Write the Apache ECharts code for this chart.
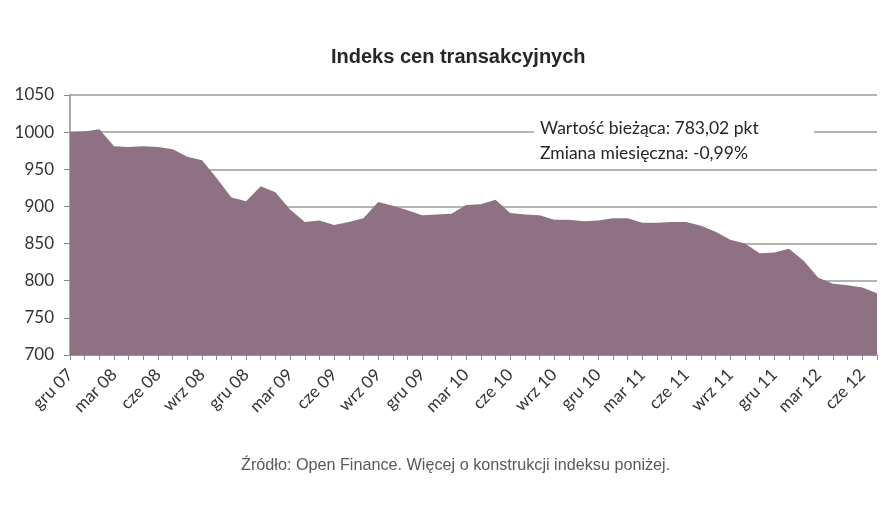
<!DOCTYPE html>
<html lang="pl">
<head>
    <meta charset="UTF-8">
    <title>Indeks cen transakcyjnych</title>
    <style>
        html, body { margin: 0; padding: 0; background: #fff; }
        #chart { width: 884px; height: 519px; }
    </style>
    <script src="https://cdn.jsdelivr.net/npm/echarts@6/dist/echarts.min.js"></script>
</head>
<body>
    <div id="chart"></div>
    <script>
        // miesiące od gru 07 do lip 12
        var months = [
            'gru 07',
            'sty 08', 'lut 08', 'mar 08', 'kwi 08', 'maj 08', 'cze 08', 'lip 08', 'sie 08', 'wrz 08', 'paź 08', 'lis 08', 'gru 08',
            'sty 09', 'lut 09', 'mar 09', 'kwi 09', 'maj 09', 'cze 09', 'lip 09', 'sie 09', 'wrz 09', 'paź 09', 'lis 09', 'gru 09',
            'sty 10', 'lut 10', 'mar 10', 'kwi 10', 'maj 10', 'cze 10', 'lip 10', 'sie 10', 'wrz 10', 'paź 10', 'lis 10', 'gru 10',
            'sty 11', 'lut 11', 'mar 11', 'kwi 11', 'maj 11', 'cze 11', 'lip 11', 'sie 11', 'wrz 11', 'paź 11', 'lis 11', 'gru 11',
            'sty 12', 'lut 12', 'mar 12', 'kwi 12', 'maj 12', 'cze 12', 'lip 12'
        ];

        // wartości indeksu (pkt)
        var indexValues = [
            1000,
            1001, 1004, 981, 980, 981, 980, 977, 967, 962, 938, 912, 907,
            927, 919, 896, 879, 881, 875, 879, 884, 906, 901, 895, 888,
            889, 890, 902, 903, 909, 891, 889, 888, 882, 882, 880, 881,
            884, 884, 878, 878, 879, 879, 874, 866, 855, 850, 837, 838,
            843, 827, 804, 796, 794, 791, 783.02
        ];

        var yTicks = [700, 750, 800, 850, 900, 950, 1000, 1050];

        var infoLines = ['Wartość bieżąca: 783,02 pkt', 'Zmiana miesięczna: -0,99%'];

        var chart = echarts.init(document.getElementById('chart'));

        var option = {
            animation: false,
            title: {
                text: 'Indeks cen transakcyjnych',
                left: 326,
                top: 42,
                textStyle: {
                    fontFamily: 'Liberation Sans',
                    fontSize: 20,
                    fontWeight: 'bold',
                    color: '#262626'
                }
            },
            grid: {
                left: 70,
                right: 7,
                top: 95,
                bottom: 164
            },
            xAxis: {
                type: 'category',
                boundaryGap: false,
                data: months,
                axisLine: { lineStyle: { color: '#8c8c8c', width: 1.5 } },
                axisTick: { interval: 0, length: 5, lineStyle: { color: '#8c8c8c' } },
                axisLabel: {
                    interval: 2,
                    rotate: 45,
                    fontFamily: 'Lato',
                    fontSize: 17,
                    color: '#333',
                    margin: 17
                }
            },
            yAxis: {
                type: 'value',
                min: yTicks[0],
                max: yTicks[yTicks.length - 1],
                interval: 50,
                axisLine: { show: true, lineStyle: { color: '#8c8c8c', width: 1.5 } },
                axisTick: { show: true, length: 6, lineStyle: { color: '#8c8c8c' } },
                axisLabel: {
                    fontFamily: 'Lato',
                    fontSize: 17,
                    color: '#333',
                    margin: 16,
                    formatter: function (v) { return String(v); }
                },
                splitLine: { lineStyle: { color: '#9a9a9a', width: 1.5 } }
            },
            series: [{
                type: 'line',
                data: indexValues,
                symbol: 'none',
                lineStyle: { width: 0 },
                areaStyle: { color: '#8e7182', opacity: 1 },
                z: 3
            }],
            graphic: [
                {
                    type: 'rect',
                    left: 534,
                    top: 113,
                    shape: { width: 280, height: 52 },
                    style: { fill: '#fff' },
                    z: 10
                },
                {
                    type: 'text',
                    left: 540,
                    top: 116,
                    style: {
                        text: infoLines.join('\n'),
                        font: '17.5px Lato',
                        lineHeight: 25,
                        fill: '#262626'
                    },
                    z: 11
                },
                {
                    type: 'text',
                    left: 241,
                    top: 458,
                    style: {
                        text: 'Źródło: Open Finance. Więcej o konstrukcji indeksu poniżej.',
                        font: '16.2px "Liberation Sans"',
                        fill: '#595959'
                    }
                }
            ]
        };

        chart.setOption(option);
    </script>
</body>
</html>
